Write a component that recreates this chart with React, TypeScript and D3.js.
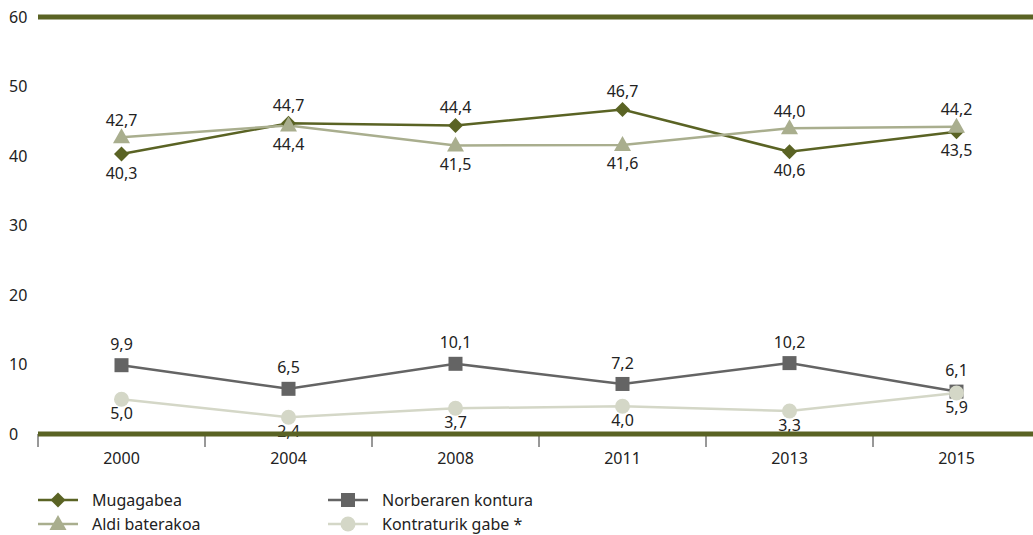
import React from "react";
import * as d3 from "d3";

const years = ["2000", "2004", "2008", "2011", "2013", "2015"];
const mugagabea = [40.3, 44.7, 44.4, 46.7, 40.6, 43.5];
const aldiBaterakoa = [42.7, 44.4, 41.5, 41.6, 44.0, 44.2];
const norberarenKontura = [9.9, 6.5, 10.1, 7.2, 10.2, 6.1];
const kontraturikGabe = [5.0, 2.4, 3.7, 4.0, 3.3, 5.9];
const yTicks = [0, 10, 20, 30, 40, 50, 60];

// label position per point: 1 = above, -1 = below
const mugaPos = [-1, 1, 1, 1, -1, -1];
const aldiPos = [1, -1, -1, -1, 1, 1];
const norbPos = [1, 1, 1, 1, 1, 1];
const kontPos = [-1, -1, -1, -1, -1, -1];

const W = 1033;
const H = 535;
const FONT = "'Noto Sans', 'Open Sans', sans-serif";

type Series = {
  name: string;
  values: number[];
  pos: number[];
  color: string;
  marker: "diamond" | "triangle" | "square" | "circle";
  above: number;
  below: number;
};

const series: Series[] = [
  { name: "Mugagabea", values: mugagabea, pos: mugaPos, color: "#5a6324", marker: "diamond", above: 18, below: 19 },
  { name: "Aldi baterakoa", values: aldiBaterakoa, pos: aldiPos, color: "#a9ae8e", marker: "triangle", above: 17, below: 19 },
  { name: "Norberaren kontura", values: norberarenKontura, pos: norbPos, color: "#646464", marker: "square", above: 21, below: 19 },
  { name: "Kontraturik gabe *", values: kontraturikGabe, pos: kontPos, color: "#d4d7c7", marker: "circle", above: 18, below: 14 },
];

function Marker({ type, x, y, color }: { type: string; x: number; y: number; color: string }) {
  if (type === "diamond") {
    const s = 7.5;
    return <path d={`M${x},${y - s}L${x + s},${y}L${x},${y + s}L${x - s},${y}Z`} fill={color} />;
  }
  if (type === "triangle") {
    return <path d={`M${x},${y - 9}L${x + 8.5},${y + 6}L${x - 8.5},${y + 6}Z`} fill={color} />;
  }
  if (type === "square") {
    return <rect x={x - 7} y={y - 7} width={14} height={14} fill={color} />;
  }
  return <circle cx={x} cy={y} r={7.5} fill={color} />;
}

export default function App() {
  const x = d3.scaleBand<string>().domain(years).range([38, 1040]).padding(0);
  const y = d3.scaleLinear().domain([0, 60]).range([434, 17]);
  const cx = (yr: string) => (x(yr) as number) + x.bandwidth() / 2;
  const line = (vals: number[]) =>
    d3
      .line<number>()
      .x((_, i) => cx(years[i]))
      .y((d) => y(d))(vals) as string;

  const fmt = (v: number) => v.toFixed(1).replace(".", ",");
  const boundaries = years.map((yr) => x(yr) as number);

  return (
    <svg
      width={W}
      height={H}
      style={{ position: "absolute", left: 0, top: 0, background: "#fff" }}
      fontFamily={FONT}
    >
      {yTicks.map((t) => (
        <text key={t} x={9} y={y(t)} dy="0.35em" fontSize={16} fill="#222">
          {t}
        </text>
      ))}
      {years.map((yr) => (
        <text key={yr} x={cx(yr)} y={458} dy="0.35em" textAnchor="middle" fontSize={16} fill="#222">
          {yr}
        </text>
      ))}
      {series.map((s) => (
        <path key={s.name} d={line(s.values)} fill="none" stroke={s.color} strokeWidth={2.5} />
      ))}
      {series.map((s) => (
        <g key={s.name + "m"}>
          {s.values.map((v, i) => (
            <Marker key={i} type={s.marker} x={cx(years[i])} y={y(v)} color={s.color} />
          ))}
        </g>
      ))}
      {series.map((s) => (
        <g key={s.name + "l"}>
          {s.values.map((v, i) => (
            <text
              key={i}
              x={cx(years[i])}
              y={y(v) + (s.pos[i] > 0 ? -s.above : s.below)}
              dy="0.35em"
              textAnchor="middle"
              fontSize={16}
              fill="#222"
            >
              {fmt(v)}
            </text>
          ))}
        </g>
      ))}
      <line x1={38} x2={W} y1={y(60)} y2={y(60)} stroke="#5a6324" strokeWidth={5} />
      {boundaries.map((b, i) => (
        <line key={i} x1={b} x2={b} y1={y(0)} y2={y(0) + 13} stroke="#333" strokeWidth={1} />
      ))}
      <line x1={38} x2={W} y1={y(0)} y2={y(0)} stroke="#5a6324" strokeWidth={5} />
      {series.map((s, i) => {
        const lx = i < 2 ? 38 : 328;
        const ly = i % 2 === 0 ? 500 : 524;
        return (
          <g key={s.name + "leg"}>
            <line x1={lx} x2={lx + 40} y1={ly} y2={ly} stroke={s.color} strokeWidth={2.5} />
            <Marker type={s.marker} x={lx + 20} y={ly} color={s.color} />
            <text x={lx + 54} y={ly} dy="0.35em" fontSize={16} fill="#222">
              {s.name}
            </text>
          </g>
        );
      })}
    </svg>
  );
}
